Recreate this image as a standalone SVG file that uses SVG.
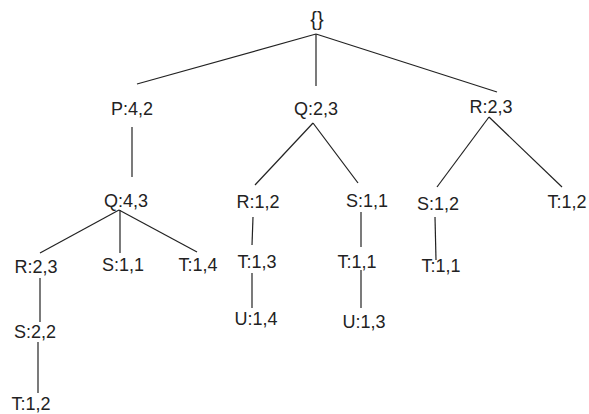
<svg xmlns="http://www.w3.org/2000/svg" width="589" height="414" viewBox="0 0 589 414">
<style>
.t{font-family:"Liberation Sans",Arial,sans-serif;font-size:18px;fill:#222;text-anchor:middle}
.c line{stroke:#222;stroke-width:1.2;fill:none}
</style>
<rect width="589" height="414" fill="#fff"/>
<g class="c" id="connectors">
<line x1="316" y1="34" x2="137" y2="84"/>
<line x1="316" y1="34" x2="316" y2="86"/>
<line x1="316" y1="34" x2="497" y2="92"/>
<line x1="132" y1="127" x2="132" y2="177"/>
<line x1="119" y1="210" x2="40" y2="253"/>
<line x1="120" y1="210" x2="120" y2="253"/>
<line x1="119" y1="210" x2="197" y2="252"/>
<line x1="40" y1="278" x2="40" y2="322"/>
<line x1="38" y1="342" x2="38" y2="393"/>
<line x1="313" y1="123" x2="255" y2="185"/>
<line x1="313" y1="123" x2="358" y2="183"/>
<line x1="253" y1="217" x2="252" y2="245"/>
<line x1="252" y1="273" x2="252" y2="308"/>
<line x1="361" y1="212" x2="361" y2="247"/>
<line x1="361" y1="270" x2="361" y2="308"/>
<line x1="489" y1="117" x2="437" y2="187"/>
<line x1="489" y1="117" x2="562" y2="187"/>
<line x1="435" y1="217" x2="436" y2="260"/>
</g>
<g id="root"><text class="t" x="317" y="26" style="font-size:20px">{}</text></g>
<g id="p42"><text class="t" x="132" y="115">P:4,2</text></g>
<g id="q23"><text class="t" x="316" y="115">Q:2,3</text></g>
<g id="r23a"><text class="t" x="491" y="113">R:2,3</text></g>
<g id="q43"><text class="t" x="126" y="207">Q:4,3</text></g>
<g id="r12"><text class="t" x="258" y="208">R:1,2</text></g>
<g id="s11a"><text class="t" x="367" y="207">S:1,1</text></g>
<g id="s12"><text class="t" x="438" y="210">S:1,2</text></g>
<g id="t12a"><text class="t" x="567" y="208">T:1,2</text></g>
<g id="r23b"><text class="t" x="36" y="273">R:2,3</text></g>
<g id="s11b"><text class="t" x="123" y="271">S:1,1</text></g>
<g id="t14"><text class="t" x="198" y="271">T:1,4</text></g>
<g id="t13"><text class="t" x="257" y="268">T:1,3</text></g>
<g id="t11a"><text class="t" x="357" y="268">T:1,1</text></g>
<g id="t11b"><text class="t" x="441" y="272">T:1,1</text></g>
<g id="s22"><text class="t" x="35" y="338">S:2,2</text></g>
<g id="u14"><text class="t" x="256" y="325">U:1,4</text></g>
<g id="u13"><text class="t" x="364" y="328">U:1,3</text></g>
<g id="t12b"><text class="t" x="31" y="410">T:1,2</text></g>
</svg>
